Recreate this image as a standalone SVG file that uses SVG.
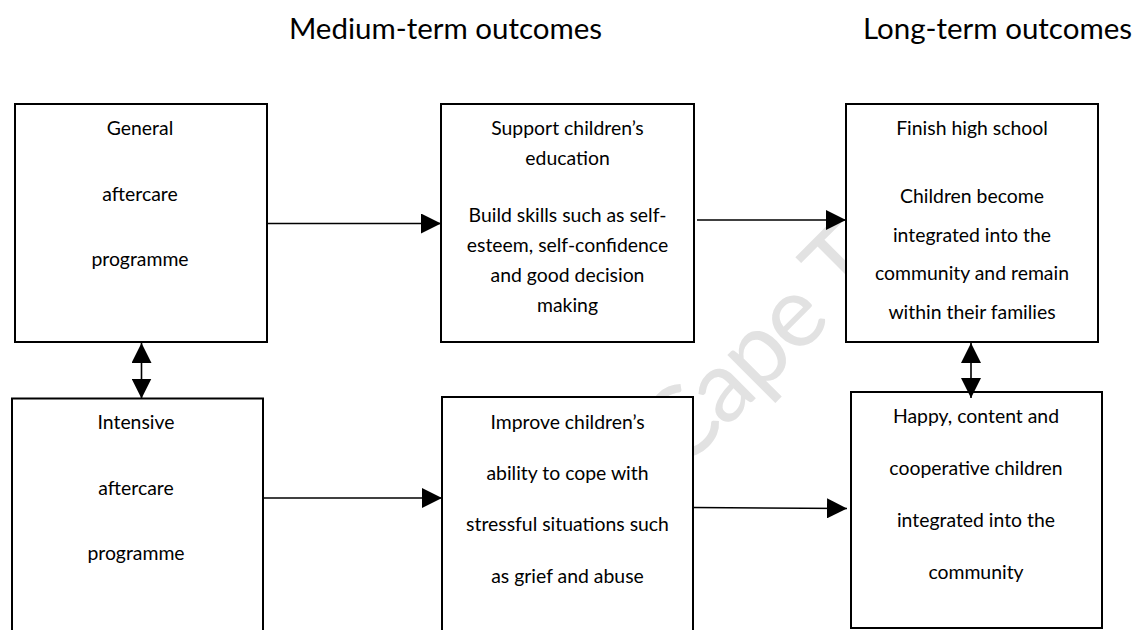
<svg xmlns="http://www.w3.org/2000/svg" width="1137" height="630" viewBox="0 0 1137 630">
  <style>
    .bg { fill: #ffffff; }
    .box { fill: #ffffff; stroke: #000000; stroke-width: 2; }
    .lbl { font-family: Lato, "Liberation Sans", sans-serif; font-size: 19.4px; fill: #000000; text-anchor: middle; }
    .head { font-family: Lato, "Liberation Sans", sans-serif; font-size: 29.5px; fill: #000000; text-anchor: middle; }
    .wm { font-family: Lato, "Liberation Sans", sans-serif; font-size: 100px; letter-spacing: -3px; fill: #e2e2e2; }
    .link { stroke: #000000; stroke-width: 1.6; fill: none; }
  </style>
  <defs>
    <marker id="tip" viewBox="0 0 20 20" refX="20" refY="10" markerWidth="20" markerHeight="20" markerUnits="userSpaceOnUse" orient="auto-start-reverse">
      <path d="M0,0 L20,10 L0,20 z" fill="#000000"/>
    </marker>
  </defs>

  <rect class="bg" x="0" y="0" width="1137" height="630"/>

  <!-- faint diagonal watermark, partly covered by the boxes -->
  <g transform="rotate(-45)">
    <text class="wm" x="146" y="816">Cape Town</text>
  </g>

  <!-- column headings -->
  <text class="head" x="445.5" y="39">Medium-term outcomes</text>
  <text class="head" x="997.5" y="39">Long-term outcomes</text>

  <!-- programmes -->
  <g id="general-aftercare">
    <rect class="box" x="15" y="104" width="252" height="238"/>
    <text class="lbl" x="140" y="135">General</text>
    <text class="lbl" x="140" y="200.5">aftercare</text>
    <text class="lbl" x="140" y="266">programme</text>
  </g>
  <g id="intensive-aftercare">
    <rect class="box" x="12" y="398.5" width="251" height="250"/>
    <text class="lbl" x="136" y="429">Intensive</text>
    <text class="lbl" x="136" y="494.5">aftercare</text>
    <text class="lbl" x="136" y="560">programme</text>
  </g>

  <!-- medium-term outcomes -->
  <g id="support-education">
    <rect class="box" x="441" y="104" width="253" height="238"/>
    <text class="lbl" x="567.5" y="135">Support children’s</text>
    <text class="lbl" x="567.5" y="165">education</text>
    <text class="lbl" x="567.5" y="222">Build skills such as self-</text>
    <text class="lbl" x="567.5" y="252">esteem, self-confidence</text>
    <text class="lbl" x="567.5" y="282">and good decision</text>
    <text class="lbl" x="567.5" y="312">making</text>
  </g>
  <g id="improve-coping">
    <rect class="box" x="442" y="397" width="251" height="250"/>
    <text class="lbl" x="567.5" y="428.5">Improve children’s</text>
    <text class="lbl" x="567.5" y="479.5">ability to cope with</text>
    <text class="lbl" x="567.5" y="531">stressful situations such</text>
    <text class="lbl" x="567.5" y="582.5">as grief and abuse</text>
  </g>

  <!-- long-term outcomes -->
  <g id="finish-school">
    <rect class="box" x="846" y="104" width="252" height="238"/>
    <text class="lbl" x="972" y="135">Finish high school</text>
    <text class="lbl" x="972" y="202.5">Children become</text>
    <text class="lbl" x="972" y="241.5">integrated into the</text>
    <text class="lbl" x="972" y="280">community and remain</text>
    <text class="lbl" x="972" y="318.5">within their families</text>
  </g>
  <g id="happy-children">
    <rect class="box" x="851" y="392" width="251" height="236"/>
    <text class="lbl" x="976" y="422.5">Happy, content and</text>
    <text class="lbl" x="976" y="475">cooperative children</text>
    <text class="lbl" x="976" y="527">integrated into the</text>
    <text class="lbl" x="976" y="579">community</text>
  </g>

  <!-- connectors -->
  <g id="connectors">
    <line class="link" x1="267" y1="223.5" x2="441" y2="223.5" marker-end="url(#tip)"/>
    <line class="link" x1="697" y1="220" x2="846" y2="220" marker-end="url(#tip)"/>
    <line class="link" x1="263" y1="498" x2="442" y2="498" marker-end="url(#tip)"/>
    <line class="link" x1="693" y1="507.5" x2="847" y2="508.5" marker-end="url(#tip)"/>
    <line class="link" x1="141.5" y1="343" x2="141.5" y2="398.5" marker-start="url(#tip)" marker-end="url(#tip)"/>
    <line class="link" x1="971" y1="343" x2="971" y2="398" marker-start="url(#tip)" marker-end="url(#tip)"/>
  </g>
</svg>
